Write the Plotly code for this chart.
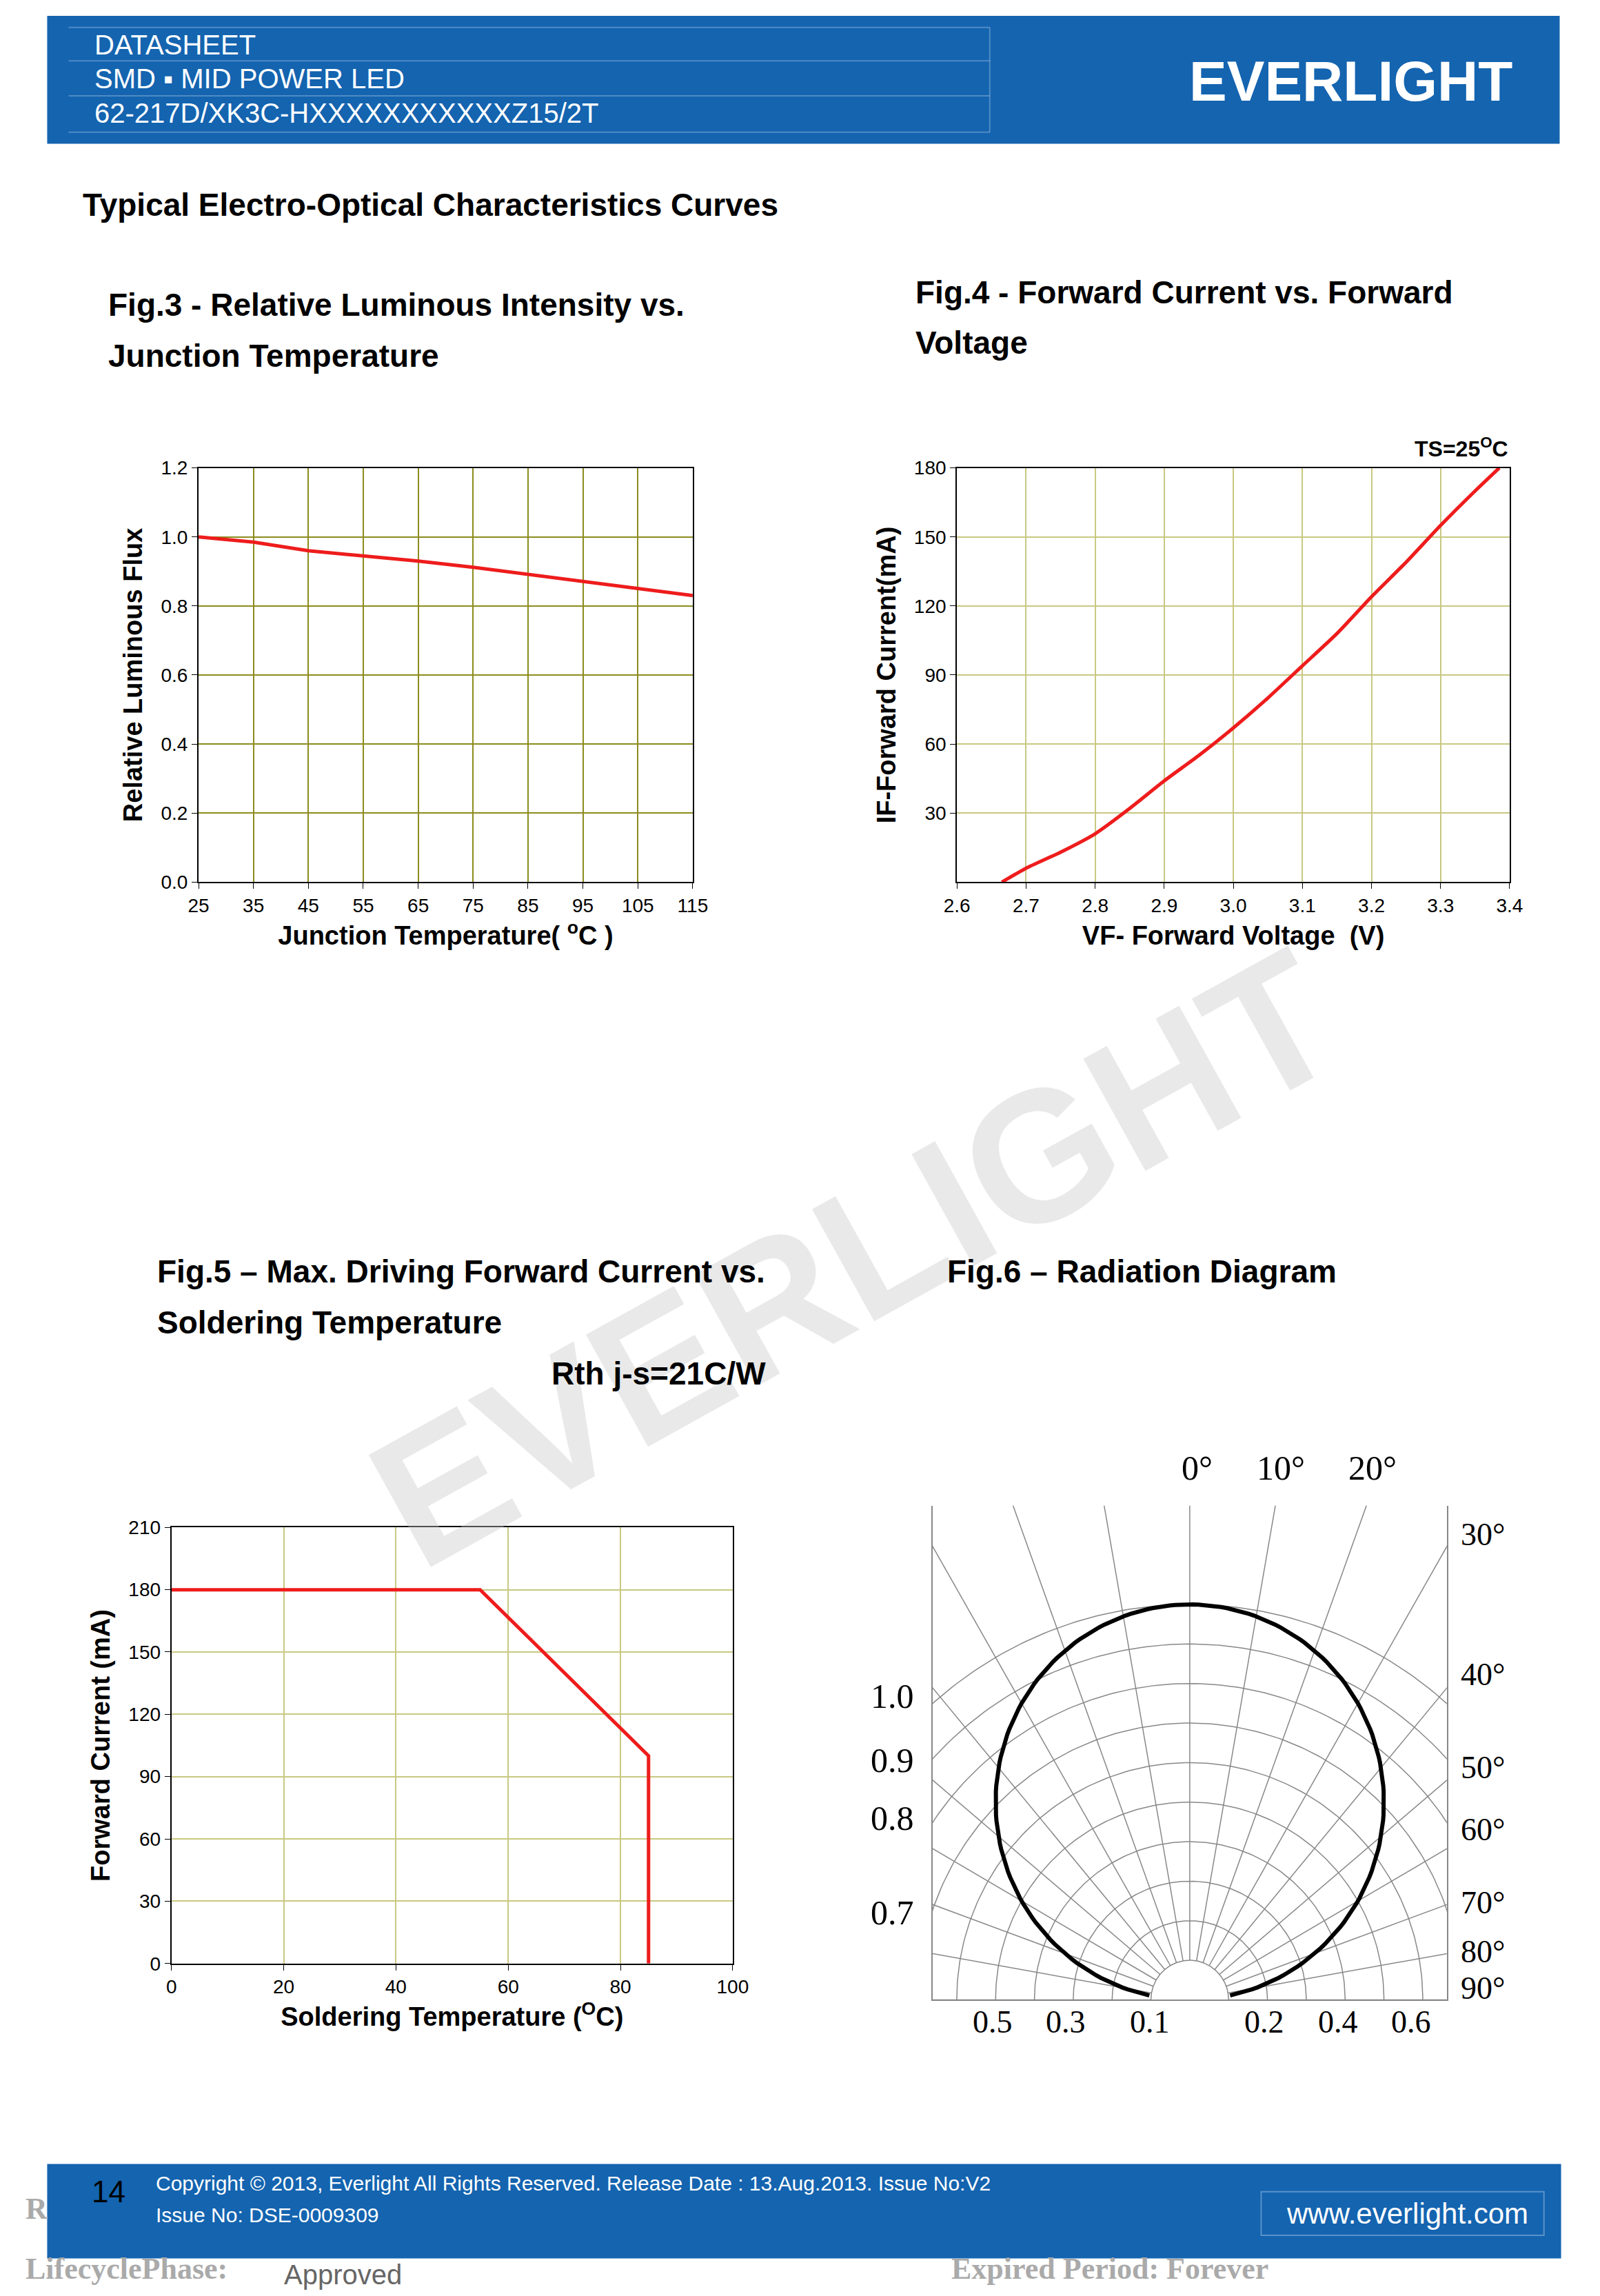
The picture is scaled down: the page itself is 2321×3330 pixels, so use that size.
import numpy as np
import plotly.graph_objects as go

W, H = 2321, 3330
def px(x): return x / 1100
def py(y): return 1 - y / 1565

# Data
f3_temp = [25, 35, 45, 55, 65, 75, 85, 95, 105, 115]
f3_flux = [1.0, 0.985, 0.96, 0.945, 0.93, 0.912, 0.892, 0.872, 0.851, 0.83]
f4_vf = [2.665, 2.7, 2.75, 2.8, 2.85, 2.9, 2.95, 3.0, 3.05, 3.1, 3.15, 3.2, 3.25, 3.3, 3.35, 3.385]
f4_if = [0, 6, 13, 21, 32, 44, 55, 67, 80, 94, 108, 124, 139, 155, 170, 180]
f5_ts = [0, 55, 85, 85]
f5_if = [180, 180, 100, 0]
f6_angles_deg = list(range(-90, 91, 10))
f6_arc_r = [0.1, 0.2, 0.3, 0.4, 0.5, 0.6, 0.7, 0.8, 0.9, 1.0]

OLIVE = "#8c8c1e"
OLIVE2 = "#c8c882"
RED = "#ee1c1c"
BLUE = "#1464b0"
SANS = "Liberation Sans"
SERIF = "Liberation Serif"

fig = go.Figure()

fig.add_trace(go.Scatter(x=f3_temp, y=f3_flux, mode="lines", line=dict(color=RED, width=5),
                         xaxis="x", yaxis="y", showlegend=False))
fig.add_trace(go.Scatter(x=f4_vf, y=f4_if, mode="lines", line=dict(color=RED, width=5, shape="spline", smoothing=0.6),
                         xaxis="x2", yaxis="y2", showlegend=False))
fig.add_trace(go.Scatter(x=f5_ts, y=f5_if, mode="lines", line=dict(color=RED, width=5),
                         xaxis="x3", yaxis="y3", showlegend=False))
for r in f6_arc_r:
    t = np.radians(np.linspace(-90, 90, 181))
    fig.add_trace(go.Scatter(x=r * np.sin(t), y=r * np.cos(t), mode="lines",
                             line=dict(color="#888888", width=1.5), xaxis="x4", yaxis="y4",
                             showlegend=False, hoverinfo="skip"))
for a in f6_angles_deg:
    t = np.radians(a)
    fig.add_trace(go.Scatter(x=[0.1 * np.sin(t), 2 * np.sin(t)], y=[0.1 * np.cos(t), 2 * np.cos(t)],
                             mode="lines", line=dict(color="#888888", width=1.5),
                             xaxis="x4", yaxis="y4", showlegend=False, hoverinfo="skip"))
t = np.radians(np.linspace(-84, 84, 200))
fig.add_trace(go.Scatter(x=np.cos(t) * np.sin(t), y=np.cos(t) ** 2, mode="lines",
                         line=dict(color="black", width=6), xaxis="x4", yaxis="y4", showlegend=False))

tickf = dict(family=SANS, size=28, color="black")
def ax(domain, rng, dtick, grid, **kw):
    d = dict(domain=domain, range=rng, dtick=dtick, showgrid=True, gridcolor=grid, gridwidth=2,
             showline=True, linecolor="black", linewidth=2, mirror=True, ticks="outside",
             ticklen=8, tickcolor="black", tickfont=tickf, zeroline=False)
    d.update(kw)
    return d

axt = lambda s: dict(text=s, font=dict(family=SANS, size=38, color="black"))
fig.update_layout(
    width=W, height=H, margin=dict(l=0, r=0, t=0, b=0), paper_bgcolor="white", plot_bgcolor="white",
    xaxis=ax([px(126), px(472)], [25, 115], 10, OLIVE, anchor="y", tick0=25, title=axt("<b>Junction Temperature( <sup>o</sup>C )</b>")),
    yaxis=ax([py(596), py(311)], [0, 1.2], 0.2, OLIVE, anchor="x", tickformat=".1f", title=axt("<b>Relative Luminous Flux</b>")),
    xaxis2=ax([px(657), px(1044)], [2.6, 3.4], 0.1, OLIVE2, anchor="y2", tickformat=".1f", title=axt("<b>VF- Forward Voltage  (V)</b>")),
    yaxis2=ax([py(596), py(311)], [0, 180], 30, OLIVE2, anchor="x2", tickvals=[30, 60, 90, 120, 150, 180], title=axt("<b>IF-Forward Current(mA)</b>")),
    xaxis3=ax([px(107), px(500)], [0, 100], 20, OLIVE2, anchor="y3", title=axt("<b>Soldering Temperature (<sup>O</sup>C)</b>")),
    yaxis3=ax([py(1340), py(1040)], [0, 210], 30, OLIVE2, anchor="x3", title=axt("<b>Forward Current (mA)</b>")),
    xaxis4=dict(domain=[px(640), px(1000)], range=[-0.662, 0.662], anchor="y4", showgrid=False, zeroline=False,
                showticklabels=False, showline=True, linecolor="#888888", linewidth=2),
    yaxis4=dict(domain=[py(1365), py(1025)], range=[0, 1.25], anchor="x4", showgrid=False, zeroline=False,
                showticklabels=False, showline=True, linecolor="#888888", linewidth=2, mirror=True),
)

shapes = [
    dict(type="rect", xref="paper", yref="paper", x0=px(20), x1=px(1079), y0=py(88), y1=py(0), fillcolor=BLUE, line_width=0, layer="below"),
    dict(type="rect", xref="paper", yref="paper", x0=px(20), x1=px(1080), y0=py(1543), y1=py(1478), fillcolor=BLUE, line_width=0, layer="below"),
]
for yy in [8, 31, 55, 80]:
    shapes.append(dict(type="line", xref="paper", yref="paper", x0=px(35), x1=px(680), y0=py(yy), y1=py(yy),
                       line=dict(color="rgba(255,255,255,0.25)", width=2)))
shapes.append(dict(type="line", xref="paper", yref="paper", x0=px(680), x1=px(680), y0=py(80), y1=py(8),
                   line=dict(color="rgba(255,255,255,0.25)", width=2)))
shapes.append(dict(type="rect", xref="paper", yref="paper", x0=px(870), x1=px(1068), y0=py(1527), y1=py(1497),
                   line=dict(color="rgba(255,255,255,0.3)", width=2)))
fig.update_layout(shapes=shapes)

anns = []
def A(x, y, s, size, color="black", family=SANS, xanchor="left", bold=False, **kw):
    anns.append(dict(x=px(x), y=py(y), xref="paper", yref="paper", text=f"<b>{s}</b>" if bold else s,
                     showarrow=False, xanchor=xanchor, yanchor="middle",
                     font=dict(family=family, size=size, color=color), **kw))

anns.append(dict(x=px(585), y=py(855), xref="paper", yref="paper", text="<b>EVERLIGHT</b>", showarrow=False,
                 textangle=-29, font=dict(family=SANS, size=270, color="rgba(200,200,200,0.4)")))
A(52, 20, "DATASHEET", 40, "white")
A(52, 43, "SMD ▪ MID POWER LED", 40, "white")
A(52, 67, "62-217D/XK3C-HXXXXXXXXXXXZ15/2T", 40, "white")
A(1047, 45, "EVERLIGHT", 82, "white", xanchor="right", bold=True)
A(44, 130, "Typical Electro-Optical Characteristics Curves", 46, bold=True)
A(62, 199, "Fig.3 - Relative Luminous Intensity vs.", 46, bold=True)
A(62, 234, "Junction Temperature", 46, bold=True)
A(627, 190, "Fig.4 - Forward Current vs. Forward", 46, bold=True)
A(627, 225, "Voltage", 46, bold=True)
A(1044, 297, "TS=25<sup>O</sup>C", 32, xanchor="right", bold=True)
A(96, 864, "Fig.5 – Max. Driving Forward Current vs.", 46, bold=True)
A(96, 899, "Soldering Temperature", 46, bold=True)
A(524, 934, "Rth j-s=21C/W", 46, xanchor="right", bold=True)
A(649, 864, "Fig.6 – Radiation Diagram", 46, bold=True)
for x, y, s in [(825, 999, "0°"), (884, 999, "10°"), (948, 999, "20°")]:
    A(x, y, s, 50, family=SERIF, xanchor="center")
for y, s in [(1045, "30°"), (1141, "40°"), (1205, "50°"), (1248, "60°"), (1298, "70°"), (1332, "80°"), (1357, "90°")]:
    A(1009, y, s, 46, family=SERIF)
for y, s in [(1156, "1.0"), (1200, "0.9"), (1240, "0.8"), (1305, "0.7")]:
    A(612, y, s, 50, family=SERIF, xanchor="center")
for x, s in [(682, "0.5"), (733, "0.3"), (792, "0.1"), (872, "0.2"), (924, "0.4"), (975, "0.6")]:
    A(x, 1380, s, 46, family=SERIF, xanchor="center")
A(63, 1497, "14", 44, xanchor="center")
A(95, 1491, "Copyright © 2013, Everlight All Rights Reserved. Release Date : 13.Aug.2013. Issue No:V2", 30, "white")
A(95, 1513, "Issue No: DSE-0009309", 30, "white")
A(1058, 1512, "www.everlight.com", 42, "white", xanchor="right")
A(4, 1550, "LifecyclePhase:", 44, "#aaaaaa", family=SERIF, bold=True)
A(185, 1554, "Approved", 40, "#666666")
A(652, 1550, "Expired Period: Forever", 44, "#aaaaaa", family=SERIF, bold=True)
A(4, 1509, "R", 44, "#aaaaaa", family=SERIF, bold=True)
fig.update_layout(annotations=anns)

fig.write_html("out.html")
